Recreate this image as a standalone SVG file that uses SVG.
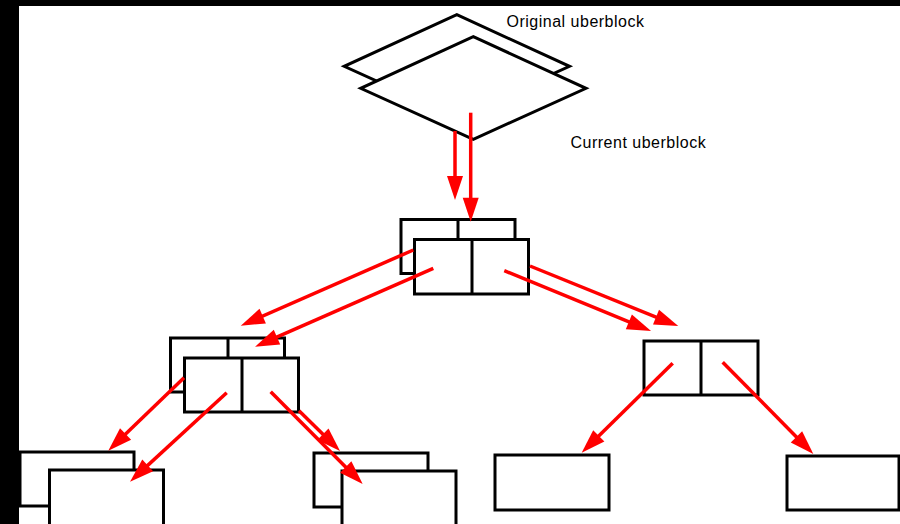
<svg xmlns="http://www.w3.org/2000/svg" width="900" height="524" viewBox="0 0 900 524">
<style>
.box{fill:#fff;stroke:#000;stroke-width:3}
.div{stroke:#000;stroke-width:3}
.dia{fill:#fff;stroke:#000;stroke-width:3;stroke-linejoin:miter}
.lbl{font-family:"Liberation Sans",Arial,sans-serif;font-size:16px;letter-spacing:0.5px;fill:#000}
.arr{stroke:#f00;stroke-width:3.5;fill:none;marker-end:url(#ah)}
.band{fill:#000}
</style>
<defs>
<marker id="ah" markerUnits="userSpaceOnUse" markerWidth="24" markerHeight="16" refX="14" refY="8" orient="auto" overflow="visible">
<path d="M0,0 L24,8 L0,16 z" fill="#f00"/>
</marker>
</defs>
<rect x="0" y="0" width="900" height="524" fill="#fff"/>
<g id="uberblock-original">
<polygon class="dia" points="456.8,14.7 569.5,66.3 456.8,117.3 344.2,66.3"/>
<text class="lbl" x="506.5" y="27.3">Original uberblock</text>
</g>
<g id="uberblock-current">
<polygon class="dia" points="473.3,36.7 586,88.3 473.3,139.3 360.7,88.3"/>
<text class="lbl" x="570.5" y="148.3">Current uberblock</text>
</g>
<g id="root-old">
<rect class="box" x="401" y="219.5" width="114" height="54"/>
<line class="div" x1="458" y1="219.5" x2="458" y2="239"/>
</g>
<g id="root-new">
<rect class="box" x="414.5" y="239.5" width="114" height="54.5"/>
<line class="div" x1="472" y1="239.5" x2="472" y2="294"/>
</g>
<g id="mid-left-old">
<rect class="box" x="170.5" y="338" width="114" height="54"/>
<line class="div" x1="228" y1="338" x2="228" y2="358"/>
</g>
<g id="mid-left-new">
<rect class="box" x="184.5" y="358" width="114" height="54"/>
<line class="div" x1="242" y1="358" x2="242" y2="412"/>
</g>
<g id="mid-right">
<rect class="box" x="644" y="341" width="114" height="54"/>
<line class="div" x1="701" y1="341" x2="701" y2="395"/>
</g>
<g id="leaf-1-old">
<rect class="box" x="20" y="452" width="114" height="54"/>
</g>
<g id="leaf-1-new">
<rect class="box" x="49.5" y="470" width="114" height="60"/>
</g>
<g id="leaf-2-old">
<rect class="box" x="314" y="453" width="114" height="54"/>
</g>
<g id="leaf-2-new">
<rect class="box" x="342" y="471" width="114" height="60"/>
</g>
<g id="leaf-3">
<rect class="box" x="495" y="455" width="114" height="55"/>
</g>
<g id="leaf-4">
<rect class="box" x="787" y="456" width="112" height="54"/>
</g>
<g id="connectors">
<line class="arr" x1="455" y1="131" x2="455" y2="190"/>
<line class="arr" x1="470.7" y1="112.7" x2="470.7" y2="211.7"/>
<line class="arr" x1="413.3" y1="250" x2="249.9" y2="321.7"/>
<line class="arr" x1="433.3" y1="268.3" x2="264.2" y2="342.7"/>
<line class="arr" x1="504.3" y1="270.7" x2="641.8" y2="327.2"/>
<line class="arr" x1="530" y1="266" x2="669" y2="322.3"/>
<line class="arr" x1="184" y1="377.8" x2="115.5" y2="443.8"/>
<line class="arr" x1="226.7" y1="392.7" x2="137.4" y2="474.9"/>
<line class="arr" x1="270.7" y1="391.7" x2="355.6" y2="476.9"/>
<line class="arr" x1="299" y1="410.7" x2="332.9" y2="444"/>
<line class="arr" x1="672.7" y1="363.3" x2="588.8" y2="445.7"/>
<line class="arr" x1="722.7" y1="362.3" x2="806.3" y2="446.9"/>
</g>
<rect class="band" x="0" y="0" width="900" height="6"/>
<rect class="band" x="0" y="0" width="19" height="524"/>
</svg>
